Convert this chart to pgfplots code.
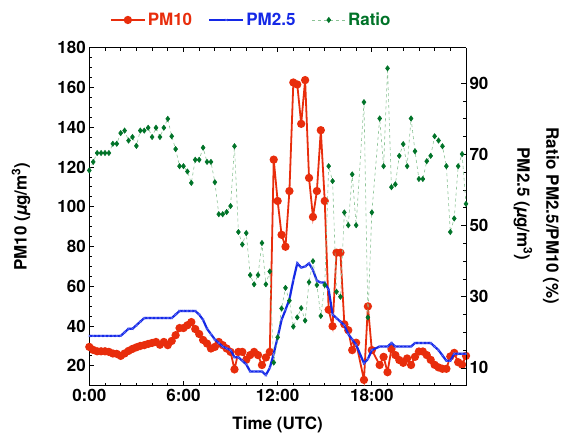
\documentclass[border=0pt]{standalone}
\usepackage{fontspec}
\setmainfont{TeX Gyre Heros}
\usepackage{pgfplots}
\usepackage{pgfplotstable}
\pgfplotsset{compat=1.18}
\definecolor{pmred}{RGB}{232,45,12}
\definecolor{pmblue}{RGB}{20,40,230}
\definecolor{pmxblue}{RGB}{140,150,255}
\definecolor{ratiogreen}{RGB}{0,115,40}
\definecolor{ratioline}{RGB}{140,195,150}

\pgfplotstableread{
t v
0 29.5
0.25 28.0
0.5 27.3
0.75 27.3
1.0 27.3
1.25 27.0
1.5 26.2
1.75 26.0
2.0 25.0
2.25 26.2
2.5 27.5
2.75 28.5
3.0 29.3
3.25 30.0
3.5 30.4
3.75 31.0
4.0 31.5
4.25 32.0
4.5 30.6
4.75 32.0
5.0 30.4
5.25 32.5
5.5 35.4
5.75 39.0
6.0 39.0
6.25 40.4
6.5 42.0
6.75 38.5
7.0 36.0
7.25 33.0
7.5 31.2
7.75 28.7
8.0 29.5
8.25 32.0
8.5 30.4
8.75 28.7
9.0 27.0
9.25 18.2
9.5 27.0
9.75 27.0
10.0 23.0
10.25 25.4
10.5 27.0
10.75 25.4
11.0 20.4
11.25 24.2
11.5 27.0
11.75 123.7
12.0 102.9
12.25 85.9
12.5 79.9
12.75 107.9
13.0 162.5
13.25 161.5
13.5 141.7
13.75 163.7
14.0 114.5
14.25 94.9
14.5 107.9
14.75 138.5
15.0 102.9
15.25 48.2
15.5 39.9
15.75 76.9
16.0 76.9
16.25 40.9
16.5 37.9
16.75 27.9
17.0 31.6
17.5 12.9
17.75 49.9
18.0 27.9
18.5 20.4
18.75 24.5
19.0 16.8
19.25 28.5
19.5 25.4
19.75 22.9
20.0 21.5
20.25 23.7
20.5 20.4
20.75 24.5
21.0 27.2
21.25 27.2
21.5 25.4
21.75 23.0
22.0 20.5
22.25 19.2
22.5 18.5
22.75 18.5
23.0 24.7
23.25 26.5
23.5 21.8
23.75 20.6
24.0 25.0
}\pmten

\pgfplotstableread{
t v
0 19
0.25 19
0.5 19
0.75 19
1.0 19
1.25 19
1.5 19
1.75 19
2.0 19
2.25 20
2.5 21
2.75 21
3.0 22
3.25 23
3.5 24
3.75 24
4.0 24
4.25 24
4.5 24
4.75 24
5.0 24
5.25 24
5.5 25
5.75 26
6.0 26
6.25 26
6.5 26
6.75 26
7.0 25
7.25 23.5
7.5 21
7.75 19.5
8.0 18
8.25 17
8.5 16
8.75 15.5
9.0 15
9.25 13
9.5 13
9.75 12
10.0 11
10.25 9
10.5 9
10.75 9
11.0 9
11.25 8
11.5 10
11.75 14
12.0 18.6
12.25 23.5
12.5 26.3
12.75 29.3
13.0 34.7
13.25 39.4
13.5 38.2
13.75 38.5
14.0 39.4
14.25 37.5
14.5 34.5
14.75 34
15.0 34
15.25 32
15.5 25
15.75 24
16.0 23
16.25 22
16.5 19.5
16.75 18
17.0 16.5
17.5 11.3
17.75 12.5
18.0 15
18.5 16
18.75 16
19.0 16
19.25 17
19.5 16
19.75 16
20.0 16
20.25 16
20.5 16
20.75 17
21.0 17
21.25 17
21.5 17
21.75 17
22.0 16
22.25 15
22.5 13.5
22.75 12
23.0 12
23.25 14
23.5 14
23.75 14
24.0 14
}\pmtwofive

\pgfplotstableread{
t v
0 65.5
0.25 67.9
0.5 70.4
0.75 70.4
1.0 70.4
1.25 70.4
1.5 73.0
1.75 73.0
2.0 76.0
2.25 76.7
2.5 73.9
2.75 74.9
3.0 72.4
3.25 76.7
3.5 76.7
3.75 77.5
4.0 74.9
4.25 77.5
4.5 74.9
4.75 77.5
5.0 80.0
5.25 75.1
5.5 71.5
5.75 66.7
6.0 66.7
6.25 65.2
6.5 62.0
6.75 68.5
7.0 68.5
7.25 71.9
7.5 67.9
7.75 67.9
8.0 62.2
8.25 53.2
8.5 53.2
8.75 53.8
9.0 55.5
9.25 72.3
9.5 48.2
9.75 44.7
10.0 47.9
10.25 36.1
10.5 33.5
10.75 36.1
11.0 45.1
11.25 33.5
11.5 37.1
11.75 11.5
12.0 18.6
12.25 26.7
12.5 32.5
12.75 28.9
13.0 21.6
13.25 24.2
13.5 26.8
13.75 23.3
14.0 34.1
14.25 40.0
14.5 33.3
14.75 24.6
15.0 33.3
15.25 66.7
15.5 62.5
15.75 31.4
16.0 30.0
16.25 53.7
16.5 50.1
16.75 64.4
17.0 50.1
17.5 84.7
17.75 24.2
18.0 53.7
18.5 80.1
18.75 66.7
19.0 94.2
19.25 60.8
19.5 61.6
19.75 69.6
20.0 72.9
20.25 66.7
20.5 80.1
20.75 70.9
21.0 63.1
21.25 63.1
21.5 68.1
21.75 69.6
22.0 75.1
22.25 73.9
22.5 72.3
22.75 66.7
23.0 48.2
23.25 52.0
23.5 66.7
23.75 70.1
24.0 56.1
}\ratio

\newcommand{\bigbf}{\bfseries\fontsize{17}{20}\selectfont}

\pgfplotsset{
  common/.style={
    scale only axis, width=376.7pt, height=338pt,
    xmin=0, xmax=24,
    tick align=inside,
    major tick length=4.5pt, minor tick length=3pt,
    axis line style={line width=0.9pt},
    every tick/.style={black, line width=0.8pt},
    tick label style={font=\bigbf},
    label style={font=\bigbf},
    /pgf/number format/assume math mode=true,
  },
  legend image code/.code={%
    \draw[mark repeat=2,mark phase=2] plot coordinates {(0pt,0pt) (17pt,0pt) (34pt,0pt)};},
}

\begin{document}
\begin{tikzpicture}
\useasboundingbox (-89.3pt,-52.3pt) rectangle (473.7pt,385.7pt);
\begin{axis}[common,
  ymin=10, ymax=180,
  axis y line*=left,
  xtick={0,6,12,18,24}, xticklabels={0:00,6:00,12:00,18:00,{}},
  minor x tick num=5,
  ytick={20,40,...,180}, minor y tick num=3,
  xlabel={Time (UTC)},
  xlabel style={at={(axis description cs:0.5,-0.116)}, anchor=center},
  ylabel={PM10 ({\itshape µ}g/m\textsuperscript{3})},
  ylabel style={at={(axis description cs:-0.181,0.5)}, anchor=center},
]
\addplot[color=pmred, line width=1.8pt, mark=*, mark size=3.2pt, mark options={fill=pmred, draw=pmred}] table[x=t,y=v] {\pmten};
\end{axis}
\begin{axis}[common,
  ymin=5, ymax=100,
  axis y line*=right, axis x line=none,
  ytick={10,30,50,70,90}, minor y tick num=3,
  legend columns=3,
  legend style={at={(axis description cs:0.43,1.082)}, anchor=center, draw=none, fill=none, font=\bigbf,
    /tikz/every even column/.append style={column sep=14pt}},
]
\addlegendimage{color=pmred, line width=1.8pt, mark=*, mark size=3.2pt, mark options={fill=pmred, draw=pmred}}
\addlegendentry{\textcolor{pmred}{PM10}}
\addplot[color=pmblue, line width=2.2pt, mark=x, mark size=2pt, mark options={draw=pmxblue, line width=0.3pt, draw opacity=0.7}] table[x=t,y=v] {\pmtwofive};
\addlegendentry{\textcolor{pmblue}{PM2.5}}
\addplot[color=ratioline, dashed, line width=0.6pt, mark=diamond*, mark size=2.6pt, mark options={solid, fill=ratiogreen, draw=ratiogreen}] table[x=t,y=v] {\ratio};
\addlegendentry{\textcolor{ratiogreen}{Ratio}}
\end{axis}
\node[rotate=-90, font=\bigbf] at (461.7pt,169.7pt) {Ratio PM2.5/PM10 (\%)};
\node[rotate=-90, font=\bigbf] at (433.7pt,181.7pt) {PM2.5 ({\itshape µ}g/m\textsuperscript{3})};
\end{tikzpicture}
\end{document}
